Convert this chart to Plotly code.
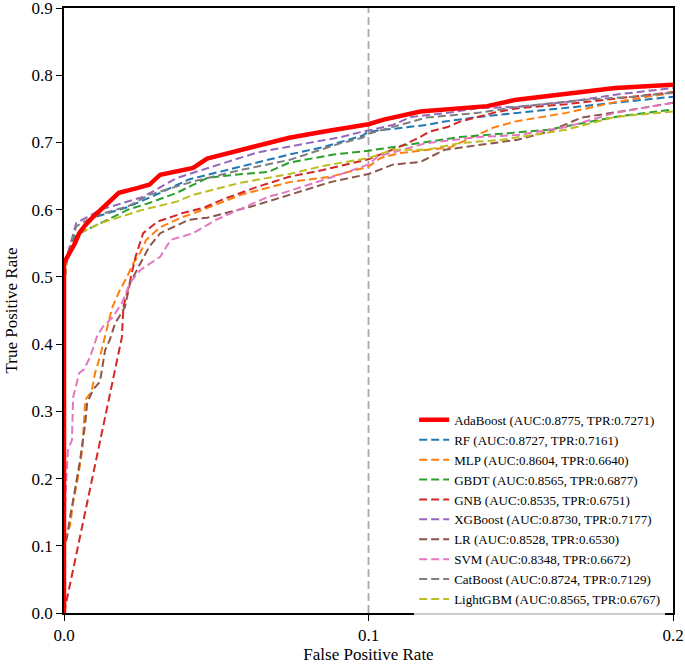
import plotly.graph_objects as go

models = ["AdaBoost", "RF", "MLP", "GBDT", "GNB", "XGBoost", "LR", "SVM", "CatBoost", "LightGBM"]
auc = [0.8775, 0.8727, 0.8604, 0.8565, 0.8535, 0.8730, 0.8528, 0.8348, 0.8724, 0.8565]
tpr_at_01 = [0.7271, 0.7161, 0.6640, 0.6877, 0.6751, 0.7177, 0.6530, 0.6672, 0.7129, 0.6767]

ada_fpr = [0, 0, 0.0005, 0.002, 0.0036, 0.005, 0.007, 0.0095, 0.012, 0.015, 0.018, 0.024, 0.028, 0.0316, 0.0424, 0.047, 0.052, 0.061, 0.0635, 0.074, 0.085, 0.092, 0.096, 0.1, 0.105, 0.117, 0.130, 0.139, 0.148, 0.1615, 0.170, 0.181, 0.2]
ada_tpr = [0, 0.52, 0.525, 0.536, 0.55, 0.565, 0.577, 0.589, 0.6, 0.612, 0.625, 0.632, 0.637, 0.652, 0.662, 0.676, 0.682, 0.692, 0.696, 0.707, 0.716, 0.722, 0.724, 0.7271, 0.734, 0.746, 0.751, 0.754, 0.763, 0.771, 0.775, 0.781, 0.786]

rf_fpr = [0, 0.0003, 0.001, 0.003, 0.0076, 0.0095, 0.021, 0.0316, 0.041, 0.058, 0.074, 0.085, 0.098, 0.1, 0.119, 0.125, 0.136, 0.149, 0.165, 0.181, 0.2]
rf_tpr = [0, 0.5, 0.53, 0.555, 0.58, 0.588, 0.604, 0.625, 0.645, 0.664, 0.682, 0.693, 0.710, 0.7161, 0.726, 0.731, 0.738, 0.744, 0.751, 0.759, 0.768]

mlp_fpr = [0, 0, 0.002, 0.003, 0.0046, 0.006, 0.007, 0.009, 0.0102, 0.0118, 0.014, 0.0158, 0.0184, 0.0207, 0.0227, 0.025, 0.027, 0.0316, 0.039, 0.0457, 0.058, 0.074, 0.0875, 0.1, 0.104, 0.11, 0.127, 0.134, 0.141, 0.148, 0.165, 0.181, 0.2]
mlp_tpr = [0, 0.11, 0.13, 0.165, 0.202, 0.243, 0.317, 0.329, 0.357, 0.381, 0.421, 0.454, 0.481, 0.5, 0.52, 0.536, 0.555, 0.574, 0.589, 0.600, 0.622, 0.641, 0.649, 0.664, 0.677, 0.684, 0.693, 0.708, 0.722, 0.731, 0.744, 0.760, 0.774]

gbdt_fpr = [0, 0.0003, 0.001, 0.003, 0.012, 0.021, 0.028, 0.037, 0.042, 0.047, 0.056, 0.067, 0.074, 0.0885, 0.1, 0.108, 0.119, 0.13, 0.144, 0.159, 0.181, 0.2]
gbdt_tpr = [0, 0.5, 0.53, 0.56, 0.58, 0.6, 0.61, 0.625, 0.636, 0.647, 0.652, 0.656, 0.670, 0.682, 0.6877, 0.693, 0.701, 0.708, 0.713, 0.719, 0.738, 0.749]

gnb_fpr = [0, 0.019, 0.0195, 0.0215, 0.0235, 0.026, 0.0306, 0.039, 0.046, 0.052, 0.0635, 0.074, 0.085, 0.096, 0.1, 0.11, 0.117, 0.12, 0.126, 0.130, 0.141, 0.149, 0.165, 0.181, 0.2]
gnb_tpr = [0, 0.41, 0.455, 0.49, 0.53, 0.565, 0.582, 0.595, 0.603, 0.615, 0.634, 0.649, 0.659, 0.671, 0.6751, 0.693, 0.708, 0.716, 0.723, 0.731, 0.744, 0.751, 0.757, 0.765, 0.775]

xgb_fpr = [0, 0.0003, 0.001, 0.004, 0.0076, 0.012, 0.026, 0.037, 0.0424, 0.0635, 0.080, 0.091, 0.098, 0.1, 0.108, 0.114, 0.126, 0.136, 0.149, 0.165, 0.181, 0.2]
xgb_tpr = [0, 0.51, 0.53, 0.58, 0.589, 0.6, 0.619, 0.647, 0.655, 0.685, 0.699, 0.708, 0.716, 0.7177, 0.726, 0.738, 0.744, 0.751, 0.753, 0.760, 0.771, 0.781]

lr_fpr = [0, 0.0003, 0.001, 0.002, 0.0036, 0.0053, 0.007, 0.0076, 0.0095, 0.0118, 0.0135, 0.015, 0.0168, 0.020, 0.0217, 0.024, 0.028, 0.0316, 0.041, 0.047, 0.061, 0.074, 0.0875, 0.1, 0.108, 0.117, 0.125, 0.136, 0.149, 0.159, 0.170, 0.187, 0.2]
lr_tpr = [0, 0.1, 0.113, 0.143, 0.183, 0.228, 0.283, 0.312, 0.332, 0.344, 0.391, 0.406, 0.431, 0.455, 0.491, 0.51, 0.545, 0.565, 0.585, 0.588, 0.604, 0.622, 0.641, 0.653, 0.667, 0.671, 0.689, 0.696, 0.704, 0.716, 0.737, 0.749, 0.759]

svm_fpr = [0, 0.0003, 0.0013, 0.0026, 0.003, 0.005, 0.0065, 0.0086, 0.0108, 0.0128, 0.016, 0.019, 0.0217, 0.025, 0.0316, 0.035, 0.0424, 0.050, 0.067, 0.072, 0.0885, 0.1, 0.103, 0.119, 0.136, 0.149, 0.165, 0.181, 0.2]
svm_tpr = [0, 0.158, 0.243, 0.257, 0.321, 0.357, 0.362, 0.381, 0.411, 0.426, 0.44, 0.461, 0.491, 0.51, 0.53, 0.555, 0.565, 0.585, 0.619, 0.625, 0.649, 0.6672, 0.679, 0.699, 0.708, 0.711, 0.723, 0.744, 0.759]

cat_fpr = [0, 0.0003, 0.001, 0.004, 0.0095, 0.021, 0.028, 0.0424, 0.058, 0.074, 0.091, 0.098, 0.1, 0.119, 0.136, 0.149, 0.170, 0.187, 0.2]
cat_tpr = [0, 0.51, 0.53, 0.575, 0.59, 0.605, 0.622, 0.642, 0.659, 0.674, 0.699, 0.707, 0.7129, 0.737, 0.744, 0.753, 0.763, 0.768, 0.774]

lgbm_fpr = [0, 0.0003, 0.001, 0.005, 0.012, 0.026, 0.037, 0.0424, 0.058, 0.074, 0.085, 0.098, 0.1, 0.108, 0.119, 0.13, 0.144, 0.165, 0.181, 0.2]
lgbm_tpr = [0, 0.5, 0.53, 0.565, 0.58, 0.6, 0.612, 0.622, 0.640, 0.653, 0.665, 0.675, 0.6767, 0.689, 0.689, 0.699, 0.704, 0.719, 0.738, 0.746]

x_ticks = [0.0, 0.1, 0.2]
y_ticks = [0.0, 0.1, 0.2, 0.3, 0.4, 0.5, 0.6, 0.7, 0.8, 0.9]

curves = {
    "AdaBoost": (ada_fpr, ada_tpr),
    "RF": (rf_fpr, rf_tpr),
    "MLP": (mlp_fpr, mlp_tpr),
    "GBDT": (gbdt_fpr, gbdt_tpr),
    "GNB": (gnb_fpr, gnb_tpr),
    "XGBoost": (xgb_fpr, xgb_tpr),
    "LR": (lr_fpr, lr_tpr),
    "SVM": (svm_fpr, svm_tpr),
    "CatBoost": (cat_fpr, cat_tpr),
    "LightGBM": (lgbm_fpr, lgbm_tpr),
}
colors = {
    "AdaBoost": "#ff0000", "RF": "#1f77b4", "MLP": "#ff7f0e", "GBDT": "#2ca02c",
    "GNB": "#d62728", "XGBoost": "#9467bd", "LR": "#8c564b", "SVM": "#e377c2",
    "CatBoost": "#7f7f7f", "LightGBM": "#bcbd22",
}

fig = go.Figure()
draw_order = models[1:] + models[:1]
for m in draw_order:
    i = models.index(m)
    fx, ty = curves[m]
    is_ada = m == "AdaBoost"
    fig.add_trace(go.Scatter(
        x=fx, y=ty, mode="lines",
        name=f"{m} (AUC:{auc[i]:.4f}, TPR:{tpr_at_01[i]:.4f})",
        legendrank=i + 1,
        line=dict(color=colors[m], width=4.5 if is_ada else 2,
                  dash="solid" if is_ada else "8px,4px"),
    ))

fig.add_shape(type="line", xref="x", yref="paper", x0=0.1, x1=0.1, y0=0, y1=1,
              line=dict(color="#a8a8a8", width=1.8, dash="8px,4px"), layer="below")

font_family = "Liberation Serif, Times New Roman, serif"
axis_common = dict(showgrid=False, zeroline=False, showline=True, linecolor="black",
                   linewidth=1.6, mirror=True, ticks="outside", ticklen=6, tickwidth=1.4,
                   tickcolor="black", automargin=False, ticklabeloverflow="allow",
                   tickfont=dict(size=17, color="black", family=font_family))
fig.update_xaxes(range=[0, 0.2], tickvals=x_ticks, tickformat=".1f",
                 title=dict(text="False Positive Rate", font=dict(size=17, family=font_family, color="black"), standoff=4),
                 **axis_common)
fig.update_yaxes(range=[0, 0.9], tickvals=y_ticks, tickformat=".1f",
                 title=dict(text="True Positive Rate", font=dict(size=17, family=font_family, color="black"), standoff=10),
                 **axis_common)

fig.update_layout(
    width=685, height=667,
    margin=dict(l=64, r=12, t=8, b=54),
    paper_bgcolor="white", plot_bgcolor="white",
    font=dict(family=font_family, color="black"),
    legend=dict(x=0.575, xanchor="left", y=0.344, yanchor="top",
                font=dict(size=13, family=font_family, color="black"),
                bgcolor="rgba(255,255,255,0.8)", borderwidth=0,
                tracegroupgap=0, itemwidth=30),
    showlegend=True,
)

fig.write_html("out.html", config={"displayModeBar": False},
               post_script="document.body.style.margin='0';document.body.style.overflow='hidden';")
